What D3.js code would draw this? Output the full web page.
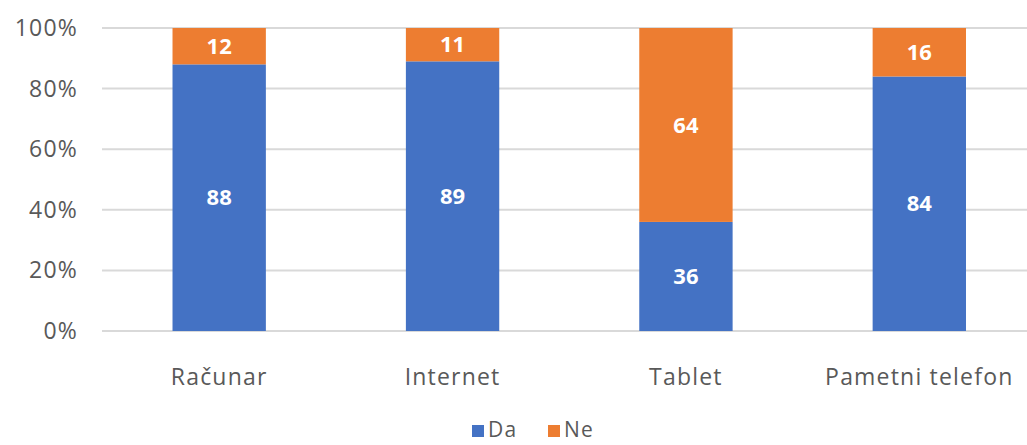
<!DOCTYPE html>
<html>
<head>
<meta charset="utf-8">
<script src="https://cdn.jsdelivr.net/npm/d3@7"></script>
<style>
  body { margin: 0; background: #fff; }
  svg { display: block; font-family: "Open Sans", sans-serif; }
</style>
</head>
<body>
<div class="container"></div>
<script>
const WIDTH = 1027;
const HEIGHT = 445;

var categories = ["Računar", "Internet", "Tablet", "Pametni telefon"];
var da = [88, 89, 36, 84];
var ne = [12, 11, 64, 16];
var yTicks = [0, 20, 40, 60, 80, 100];
var seriesNames = ["Da", "Ne"];
var colors = ["#4472C4", "#ED7D31"];

var x = d3.scaleBand()
    .domain(categories)
    .range([102.5, 1036])
    .paddingInner(0.6)
    .paddingOuter(0.3);

var y = d3.scaleLinear()
    .domain([0, 100])
    .range([331, 28]);

var svg = d3.select(".container").append("svg")
    .attr("width", WIDTH)
    .attr("height", HEIGHT);

// gridlines
svg.append("g").selectAll("line")
    .data(yTicks)
    .enter().append("line")
    .attr("x1", 102)
    .attr("x2", WIDTH)
    .attr("y1", function (d) { return y(d); })
    .attr("y2", function (d) { return y(d); })
    .attr("stroke", "#d9d9d9")
    .attr("stroke-width", 2);

// y axis labels
svg.append("g").selectAll("text")
    .data(yTicks)
    .enter().append("text")
    .attr("x", 78)
    .attr("y", function (d) { return y(d); })
    .attr("dy", "0.35em")
    .attr("text-anchor", "end")
    .attr("font-size", 23)
    .attr("letter-spacing", 1.2)
    .attr("fill", "#595959")
    .text(function (d) { return d + "%"; });

var stacked = categories.map(function (c, i) {
    return [
        { cat: c, y0: 0, y1: da[i], v: da[i], s: 0 },
        { cat: c, y0: da[i], y1: da[i] + ne[i], v: ne[i], s: 1 }
    ];
});
var segs = [].concat.apply([], stacked);

var bars = svg.append("g").selectAll("g")
    .data(segs)
    .enter().append("g");

bars.append("rect")
    .attr("x", function (d) { return x(d.cat); })
    .attr("width", x.bandwidth())
    .attr("y", function (d) { return y(d.y1); })
    .attr("height", function (d) { return y(d.y0) - y(d.y1); })
    .attr("fill", function (d) { return colors[d.s]; });

bars.append("text")
    .attr("x", function (d) { return x(d.cat) + x.bandwidth() / 2; })
    .attr("y", function (d) { return y((d.y0 + d.y1) / 2); })
    .attr("dy", "0.35em")
    .attr("text-anchor", "middle")
    .attr("font-size", 22)
    .attr("font-weight", "bold")
    .attr("fill", "#fff")
    .text(function (d) { return d.v; });

// category labels
svg.append("g").selectAll("text")
    .data(categories)
    .enter().append("text")
    .attr("x", function (d) { return x(d) + x.bandwidth() / 2; })
    .attr("y", 377)
    .attr("dy", "0.35em")
    .attr("text-anchor", "middle")
    .attr("font-size", 23)
    .attr("letter-spacing", 1.2)
    .attr("fill", "#595959")
    .text(function (d) { return d; });

// legend
var legend = svg.append("g").selectAll("g")
    .data(seriesNames)
    .enter().append("g")
    .attr("transform", function (d, i) { return "translate(" + (472 + i * 76) + ",430)"; });

legend.append("rect")
    .attr("x", 0)
    .attr("y", -5)
    .attr("width", 12)
    .attr("height", 12)
    .attr("fill", function (d, i) { return colors[i]; });

legend.append("text")
    .attr("x", 16)
    .attr("y", 0)
    .attr("dy", "0.35em")
    .attr("font-size", 21)
    .attr("letter-spacing", 1.2)
    .attr("fill", "#595959")
    .text(function (d) { return d; });
</script>
</body>
</html>
